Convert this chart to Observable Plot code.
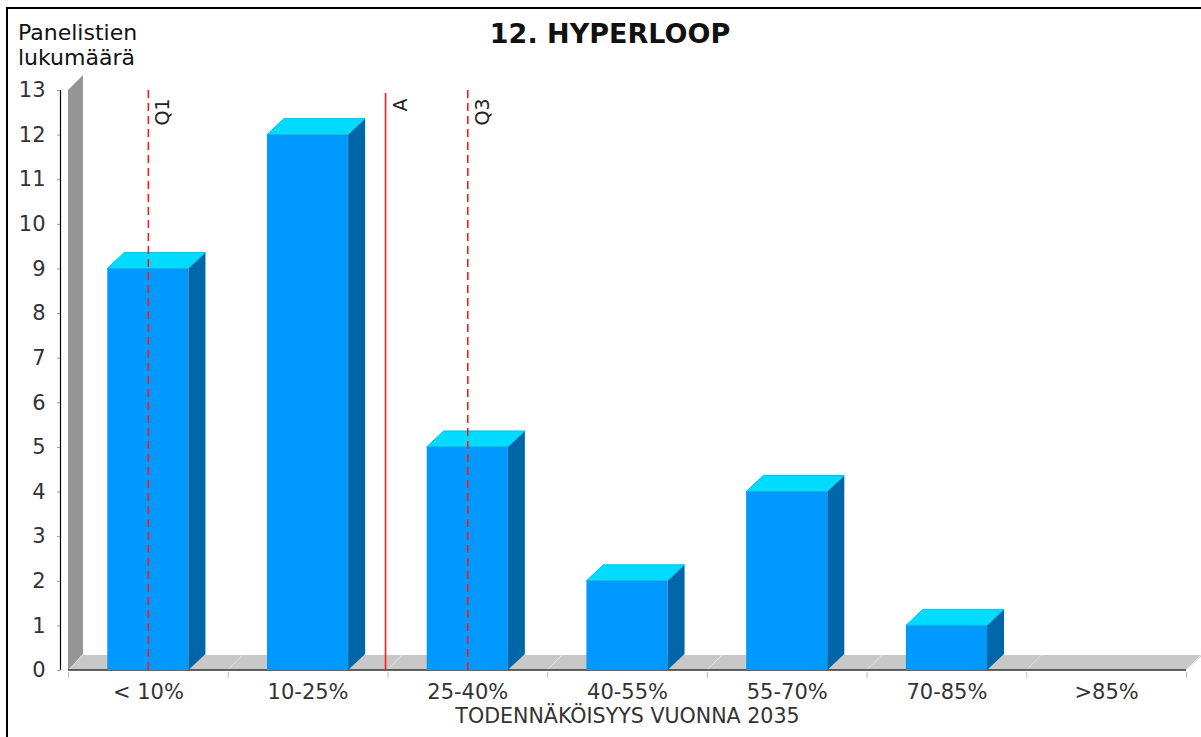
<!DOCTYPE html>
<html><head><meta charset="utf-8">
<script src="https://cdn.jsdelivr.net/npm/d3@7"></script>
<script src="https://cdn.jsdelivr.net/npm/@observablehq/plot@0.6"></script>
<style>
body{margin:0;background:#fff;}
#wrap{position:relative;width:1201px;height:737px;overflow:hidden;background:#fff;font-family:"DejaVu Sans",sans-serif;color:#000;}
#border{position:absolute;left:6px;top:7px;right:-10px;bottom:-10px;border-top:2px solid #000;border-left:2px solid #000;}
#title{position:absolute;top:20px;left:610px;transform:translateX(-50%);font-size:27px;font-weight:bold;line-height:27px;white-space:nowrap;color:#111;}
#ylab{position:absolute;top:20px;left:18px;font-size:22px;line-height:25px;color:#111;}
#chart{position:absolute;top:70px;left:0;}
</style></head>
<body><div id="wrap"><div id="border"></div><div id="title"></div><div id="ylab"></div><div id="chart"></div></div>
<script>
// ---- data ----
const title = "12. HYPERLOOP";
const yLabelLines = ["Panelistien", "lukumäärä"];
const xLabel = "TODENNÄKÖISYYS VUONNA 2035";
const categories = ["< 10%", "10-25%", "25-40%", "40-55%", "55-70%", "70-85%", ">85%"];
const counts = [9, 12, 5, 2, 4, 1, 0];
const yTicks = [0, 1, 2, 3, 4, 5, 6, 7, 8, 9, 10, 11, 12, 13];
const markerNames = ["Q1", "A", "Q3"];
const markerPositions = [0, 1.485, 2]; // in category-index units
const markerDashed = [true, false, true];

// ---- derived tables ----
const bars = categories.map((c, i) => ({i, category: c, count: counts[i]}));
const markers = markerNames.map((n, k) => ({name: n, pos: markerPositions[k], dashed: markerDashed[k]}));
const catIndex = categories.map((c, i) => i);
const xDomain = [-0.5, categories.length - 0.5];
const yDomain = [0, yTicks[yTicks.length - 1]];
const boundaries = d3.range(categories.length + 1).map(k => k + xDomain[0]);

// ---- style ----
const barHalf = 0.254;
const dX = 17, dY = 16;
const pts = a => a.map(p => p.join(",")).join(" ");

document.getElementById("title").textContent = title;
document.getElementById("ylab").innerHTML = yLabelLines.join("<br>");

function wallAndFloor(index, scales) {
  const {x, y} = scales;
  const g = d3.create("svg:g");
  const xa = x(xDomain[0]), xb = x(xDomain[1]), y0 = y(yDomain[0]), y1 = y(yDomain[1]);
  g.append("polygon").attr("points", pts([[xa, y0], [xa, y1], [xa + dX - 2, y1 - dY + 1], [xa + dX - 2, y0 - dY]])).attr("fill", "#959595");
  g.append("polygon").attr("points", pts([[xa, y0], [xa + dX - 2, y0 - dY + 1], [xb + dX, y0 - dY + 1], [xb, y0]])).attr("fill", "#c8c8c8");
  for (const b of boundaries.slice(1)) {
    g.append("line").attr("x1", x(b)).attr("y1", y0).attr("x2", x(b) + dX - 2).attr("y2", y0 - dY + 1)
      .attr("stroke", "#e4e4e4").attr("stroke-width", 1);
  }
  g.append("line").attr("x1", xa).attr("x2", xb).attr("y1", y0).attr("y2", y0).attr("stroke", "#333").attr("stroke-width", 1.5);
  return g.node();
}

function barFaces(index, scales) {
  const {x, y} = scales;
  const g = d3.create("svg:g");
  for (const b of bars) {
    if (!(b.count > 0)) continue;
    const xl = x(b.i - barHalf), xr = x(b.i + barHalf), yt = y(b.count), yb = y(0);
    g.append("polygon").attr("points", pts([[xr, yt], [xr + dX, yt - dY], [xr + dX, yb - dY], [xr, yb]]))
      .attr("fill", "#0066aa");
    g.append("polygon").attr("points", pts([[xl, yt], [xl + dX, yt - dY], [xr + dX, yt - dY], [xr, yt]]))
      .attr("fill", "#00dcff").attr("stroke", "#00a8d8").attr("stroke-width", 0.8);
  }
  return g.node();
}

const chart = Plot.plot({
  width: 1201,
  height: 667,
  marginLeft: 68,
  marginRight: 15,
  marginTop: 20,
  marginBottom: 67,
  style: {fontFamily: "DejaVu Sans, sans-serif", fontSize: "20px", background: "transparent", overflow: "visible"},
  x: {type: "linear", domain: xDomain, label: null},
  y: {domain: yDomain, label: null},
  marks: [
    wallAndFloor,
    Plot.rectY(bars.filter(d => d.count > 0), {x1: d => d.i - barHalf, x2: d => d.i + barHalf, y1: 0, y2: "count", fill: "#0099ff"}),
    barFaces,
    Plot.ruleX(markers.filter(d => d.dashed), {x: "pos", y1: yDomain[0], y2: yDomain[1], stroke: "#ff1a1a", strokeWidth: 1.6, strokeDasharray: "8,5"}),
    Plot.ruleX(markers.filter(d => !d.dashed), {x: "pos", y1: yDomain[0], y2: yDomain[1], stroke: "#ff1a1a", strokeWidth: 1.6, insetBottom: -3}),
    Plot.text(markers, {x: "pos", y: yDomain[1], text: "name", rotate: -90, textAnchor: "end", lineAnchor: "middle", dx: 15, dy: 8, fontSize: 19, fill: "#222"}),
    Plot.ruleX([xDomain[0]], {y1: yDomain[0], y2: yDomain[1], dx: -8, stroke: "#000", strokeWidth: 1.2}),
    Plot.axisY(yTicks, {label: null, tickSize: 3, tickPadding: 12, dx: -8, fontSize: 21, stroke: "#999", fill: "#333"}),
    Plot.axisX(boundaries, {label: null, tickSize: 6, dy: 2, tickFormat: () => "", stroke: "#bbb"}),
    Plot.axisX(catIndex, {label: null, tickSize: 0, tickPadding: 14, tickFormat: i => categories[i], fontSize: 21, fill: "#333"}),
    Plot.text([xLabel], {frameAnchor: "bottom", text: d => d, dy: 52, fontSize: 20.6, fill: "#333"})
  ]
});
document.getElementById("chart").appendChild(chart);
</script>
</body></html>
